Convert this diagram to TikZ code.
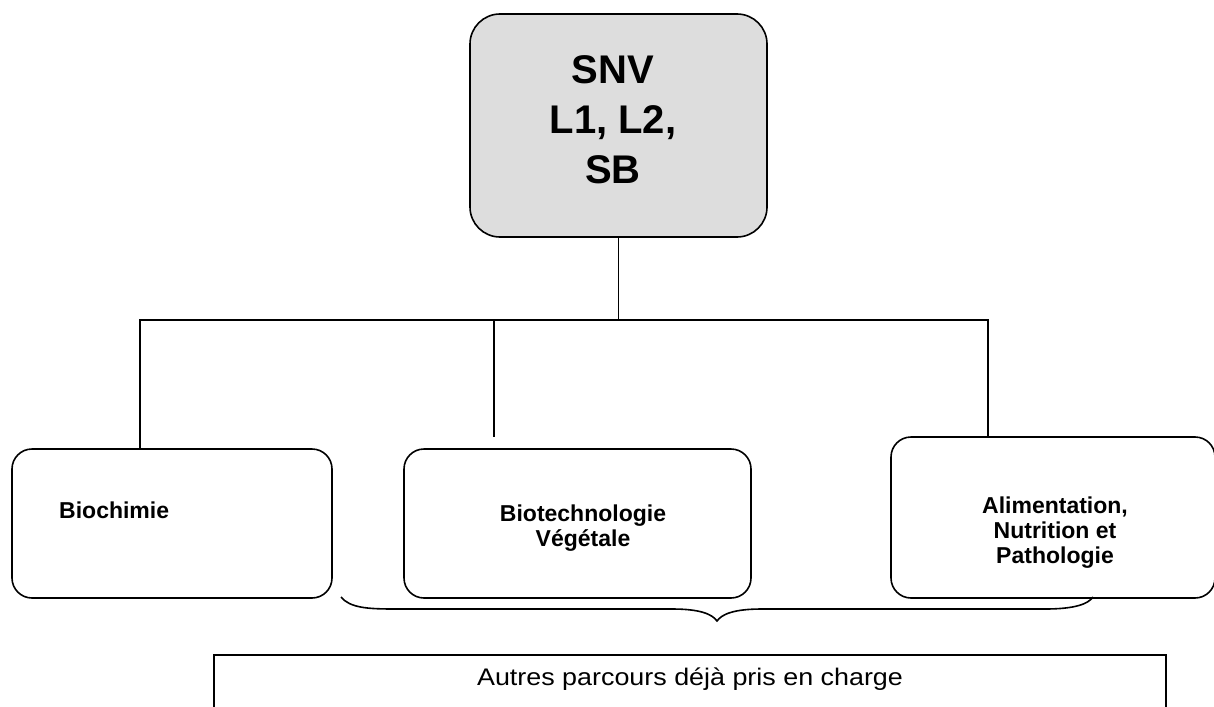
\documentclass[tikz,border=0pt]{standalone}
\usepackage{fontspec}
\usepackage{graphicx}
\setmainfont{Liberation Sans}
\definecolor{boxgray}{RGB}{221,221,221}
\tikzset{
  conn/.style={line width=1.6pt, line cap=butt},
  bigbox/.style={draw, line width=1.6pt, fill=boxgray, rounded corners=30pt, inner sep=0pt},
  smallbox/.style={draw, line width=1.6pt, rounded corners=20pt, inner sep=0pt},
  plainbox/.style={draw, line width=1.6pt, inner sep=0pt},
  bigtext/.style={font=\bfseries\fontsize{40}{50}\selectfont, align=center, inner sep=0pt},
  labtext/.style={font=\bfseries\fontsize{23}{25}\selectfont, align=center, inner sep=0pt},
  normtext/.style={font=\fontsize{24}{28}\selectfont, inner sep=0pt}
}
\begin{document}
\begin{tikzpicture}[x=1pt,y=-1pt]
\useasboundingbox (0,0) rectangle (1214,706);
\clip (0,0) rectangle (1214,706);
% top box
\node[bigbox, minimum width=297pt, minimum height=223pt] (snv) at (618.5,125.5) {};
\node[bigtext] (snvT) at (613,120) {SNV\\L1, L2,\\SB};
% three boxes
\node[smallbox, minimum width=320pt, minimum height=149pt] (bioc) at (172,523.5) {};
\node[labtext, anchor=west] (biocT) at (59,510) {Biochimie};
\node[smallbox, minimum width=347pt, minimum height=149pt] (biot) at (577.5,523.5) {};
\node[labtext] (biotT) at (583,528) {Biotechnologie\\Végétale};
\node[smallbox, minimum width=324pt, minimum height=161pt] (alim) at (1053,517.5) {};
\node[labtext] (alimT) at (1055,533) {Alimentation,\\Nutrition et\\Pathologie};
% connectors
\coordinate (jl) at (140,320);
\coordinate (jm) at (494,320);
\coordinate (jr) at (988,320);
\coordinate (mend) at (494,437);
\draw[conn] (snv.south) -- (snv.south |- jl);
\draw[conn] (jl |- bioc.north) -- (jl) -- (jr) -- (jr |- alim.north);
\draw[conn] (jm) -- (mend);
% brace
\coordinate (bl) at (341,597);
\coordinate (btip) at (717,621);
\coordinate (br) at (1093,597);
\draw[conn] (bl) .. controls (350,608) and (368,609) .. (395,609) -- (672,609)
  .. controls (700,609) and (712,614) .. (btip)
  .. controls (722,614) and (734,609) .. (762,609) -- (1045,609)
  .. controls (1075,609) and (1088,604) .. (br);
% bottom box
\node[plainbox, minimum width=952pt, minimum height=100pt] (autres) at (690,705) {};
\node[normtext] (autresT) at (690,679) {\scalebox{1.12}[1]{Autres parcours déjà pris en charge}};
\end{tikzpicture}
\end{document}
